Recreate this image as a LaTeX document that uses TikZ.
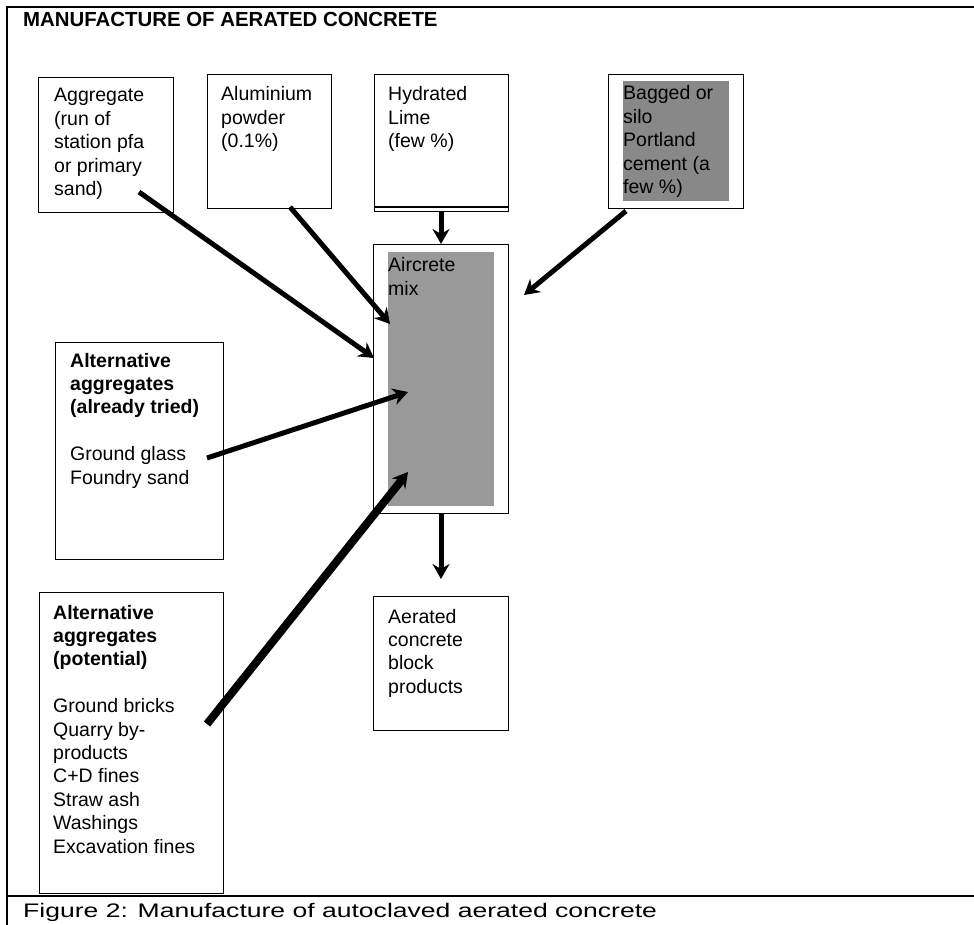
\documentclass[tikz,border=0pt]{standalone}
\usepackage{fontspec}
\usepackage{graphicx}
\setmainfont{Liberation Sans}
\usetikzlibrary{arrows.meta}
\newcommand\tl[1]{\begin{tabular}[t]{@{}l@{}}#1\end{tabular}}
\definecolor{greyA}{HTML}{888888}
\definecolor{greyB}{HTML}{999999}
\tikzset{
  box/.style={draw, line width=1.2pt, inner sep=0pt, anchor=north west},
  shade/.style={fill=#1, draw=none, inner sep=0pt, anchor=north west},
  txt/.style={inner sep=0pt, anchor=base west, font=\fontsize{19.5}{23.4}\selectfont},
  flow/.style={line width=5pt, -{Stealth[length=15pt,width=17pt,inset=5pt]}},
  heavy/.style={flow, line width=8pt},
  frameline/.style={line width=2pt},
}
\begin{document}
\begin{tikzpicture}[x=1pt,y=-1pt]
\useasboundingbox (0,0) rectangle (974,925);
% frame
\draw[frameline] (6,7) -- (974,7);
\draw[frameline] (7,6) -- (7,925);
\draw[frameline] (7,896) -- (974,896);
% title and caption
\node[inner sep=0pt, anchor=base west, font=\bfseries\fontsize{20.4}{24}\selectfont] (title) at (23,27) {MANUFACTURE OF AERATED CONCRETE};
\node[inner sep=0pt, anchor=base west, font=\fontsize{19.6}{23}\selectfont] (caption) at (23,917) {\scalebox{1.354}[1]{Figure 2: Manufacture of autoclaved aerated concrete}};
% boxes
\node[box, minimum width=135pt, minimum height=135pt] (agg) at (38,77) {};
\node[box, minimum width=124pt, minimum height=134pt] (alu) at (207,74) {};
\node[box, minimum width=134pt, minimum height=137pt] (lime) at (374,74) {};
\draw[line width=1.2pt] (lime.west |- 0,207) -- (lime.east |- 0,207);
\node[box, minimum width=135pt, minimum height=134pt] (bag) at (608,74) {};
\node[shade=greyA, minimum width=106pt, minimum height=120pt] (baggrey) at (623,81) {};
\node[box, minimum width=135pt, minimum height=269pt] (mix) at (373,244) {};
\node[shade=greyB, minimum width=106pt, minimum height=254pt] (mixgrey) at (388,252) {};
\node[box, minimum width=135pt, minimum height=134pt] (prod) at (373,596) {};
\node[box, minimum width=168pt, minimum height=217pt] (tried) at (55,342) {};
\node[box, minimum width=184pt, minimum height=301pt] (pot) at (39,592) {};
% texts
\node[txt] (aggt) at (54,102) {\tl{Aggregate\\(run of\\station pfa\\or primary\\sand)}};
\node[txt] (alut) at (221,101) {\tl{Aluminium\\powder\\(0.1\%)}};
\node[txt] (limet) at (388,101) {\tl{Hydrated\\Lime\\(few \%)}};
\node[txt] (bagt) at (623,100) {\tl{Bagged or\\silo\\Portland\\cement (a\\few \%)}};
\node[txt] (mixt) at (388,272) {\tl{Aircrete\\mix}};
\node[txt] (prodt) at (388,623) {\tl{Aerated\\concrete\\block\\products}};
\node[txt] (triedt) at (70,367) {\tl{\textbf{Alternative}\\\textbf{aggregates}\\\textbf{(already tried)}\\ \\Ground glass\\Foundry sand}};
\node[txt] (pott) at (53,619) {\tl{\textbf{Alternative}\\\textbf{aggregates}\\\textbf{(potential)}\\ \\Ground bricks\\Quarry by-\\products\\C+D fines\\Straw ash\\Washings\\Excavation fines}};
% arrow end points
\coordinate (aggS) at (139,192);
\coordinate (aggE) at (374,358);
\coordinate (aluS) at (290,207);
\coordinate (aluE) at (390,324);
\coordinate (limeS) at (441,211);
\coordinate (limeE) at (441,244);
\coordinate (bagS) at (626,211);
\coordinate (bagE) at (524,295);
\coordinate (glS) at (207,458);
\coordinate (glE) at (408,392);
\coordinate (potS) at (207,724);
\coordinate (potE) at (408,472);
\coordinate (outS) at (441,513);
\coordinate (outE) at (441,579);
% arrows
\draw[flow] (aggS) -- (aggE);
\draw[flow] (aluS) -- (aluE);
\draw[flow] (limeS) -- (limeE);
\draw[flow] (bagS) -- (bagE);
\draw[flow] (glS) -- (glE);
\draw[heavy] (potS) -- (potE);
\draw[flow] (outS) -- (outE);
\end{tikzpicture}
\end{document}
